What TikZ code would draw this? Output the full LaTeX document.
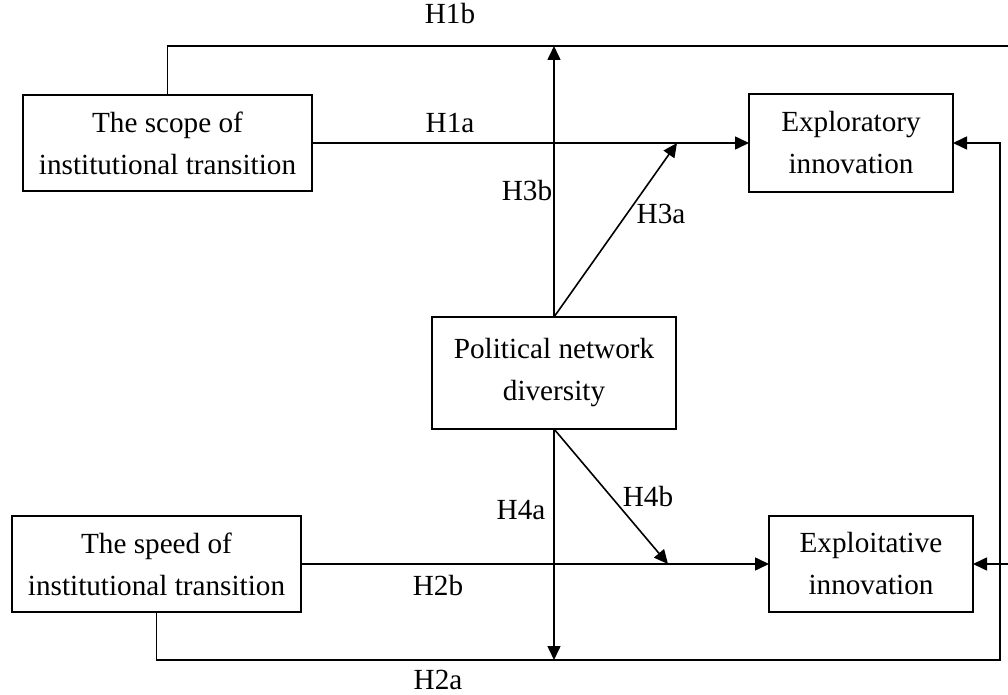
\documentclass[tikz,border=0pt]{standalone}
\usepackage{fontspec}
\setmainfont{Liberation Serif}
\usetikzlibrary{arrows.meta,positioning,calc}

\begin{document}
\begin{tikzpicture}[x=0.5pt, y=-0.5pt, >={Triangle[length=7pt,width=6.5pt]},
  every node/.style={font=\fontsize{14.6}{21}\selectfont},
  var/.style={draw, line width=0.8pt, align=center, inner sep=0pt, outer sep=0pt},
  link/.style={line width=0.8pt}]
  \useasboundingbox (0,0) rectangle (1008,695);

  % Define nodes
  \node[var, minimum width=144.5pt, minimum height=48pt] (scope) at (167.5,143) {The scope of\\institutional transition};
  \node[var, minimum width=102pt, minimum height=49pt] (explor) at (851,143) {Exploratory\\innovation};
  \node[var, minimum width=122pt, minimum height=56pt] (polit) at (554,373) {Political network\\diversity};
  \node[var, minimum width=144.5pt, minimum height=48pt] (speed) at (156.5,564) {The speed of\\institutional transition};
  \node[var, minimum width=102pt, minimum height=48pt] (exploit) at (871,564) {Exploitative\\innovation};

  % Free ends
  \coordinate (topR) at (1008,46);
  \coordinate (sideR) at (1000,660);
  \coordinate (h3aEnd) at (677,143);
  \coordinate (h4bEnd) at (668,564);
  \coordinate (exploitR) at (1008,564);

  % Draw arrows
  \draw[link] (scope.north) -- (scope.north |- topR) -- (topR);
  \draw[link,->] (polit.north) -- (polit.north |- topR);
  \draw[link,->] (polit.north) -- (h3aEnd);
  \draw[link,->] (scope.east) -- (explor.west);
  \draw[link,->] (speed.south) -- (speed.south |- sideR) -- (sideR) -- (sideR |- explor.east) -- (explor.east);
  \draw[link,->] (polit.south) -- (polit.south |- sideR);
  \draw[link,->] (polit.south) -- (h4bEnd);
  \draw[link,->] (speed.east) -- (exploit.west);
  \draw[link,->] (exploitR) -- (exploit.east);

  % Add labels
  \node (H1b) at (450,14) {H1b};
  \node (H1a) at (450,123) {H1a};
  \node (H3b) at (527,191) {H3b};
  \node (H3a) at (661,214) {H3a};
  \node (H4a) at (521,510) {H4a};
  \node (H4b) at (648,497) {H4b};
  \node (H2b) at (438,586) {H2b};
  \node (H2a) at (438,680) {H2a};
\end{tikzpicture}
\end{document}
